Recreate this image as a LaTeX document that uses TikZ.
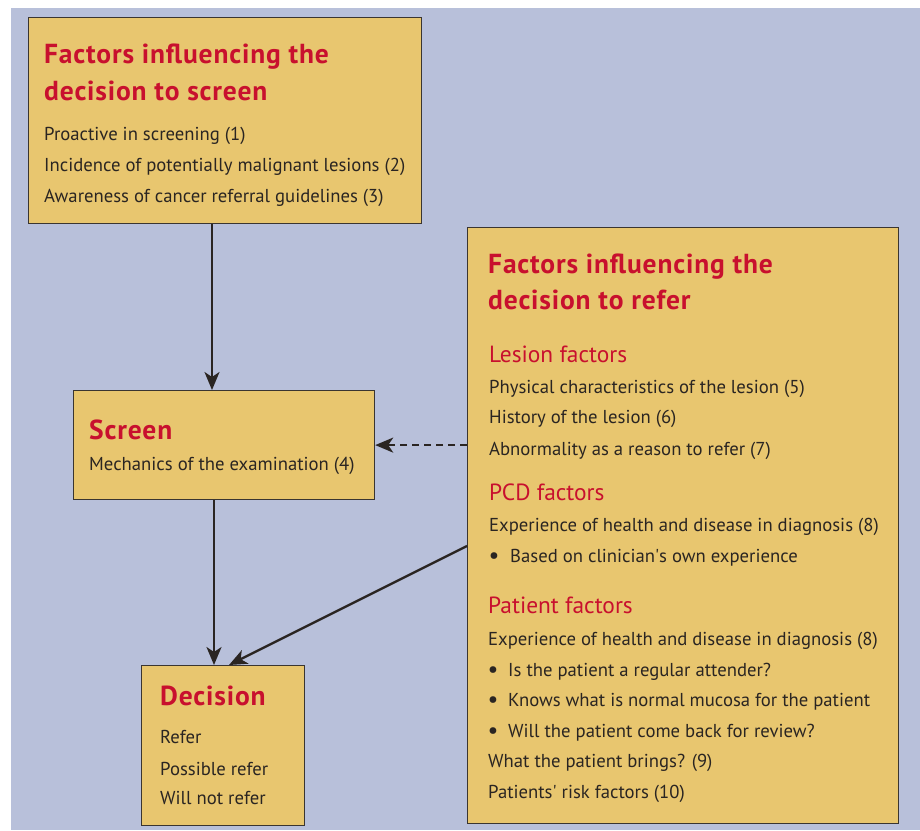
\documentclass[tikz,border=0pt]{standalone}
\usepackage{fontspec}
\setmainfont{PT Sans}
\usetikzlibrary{arrows.meta}
\definecolor{bgc}{HTML}{B8C0DA}
\definecolor{boxc}{HTML}{E8C66F}
\definecolor{titc}{HTML}{C8102E}
\definecolor{txtc}{HTML}{2A2522}
\definecolor{edgec}{HTML}{3A3530}
\begin{document}
\begin{tikzpicture}[x=1pt,y=-1pt,
  box/.style={draw=edgec,line width=1.2pt,fill=boxc,anchor=north west,inner sep=0pt},
  ttl/.style={anchor=base west,inner sep=0pt,text=titc,font=\fontsize{27.5}{27.5}\selectfont\bfseries\addfontfeature{LetterSpace=3}},
  sub/.style={anchor=base west,inner sep=0pt,text=titc,font=\fontsize{23.4}{23.4}\selectfont},
  txt/.style={anchor=base west,inner sep=0pt,text=txtc,font=\fontsize{18.7}{18.7}\selectfont},
  bul/.style={anchor=base,inner sep=0pt,text=txtc,font=\fontsize{24}{24}\selectfont},
  arr/.style={draw=txtc,line width=2.4pt,-{Stealth[length=18pt,width=15pt,inset=5pt]}}]
\useasboundingbox (0,0) rectangle (920,830);
\fill[white] (0,0) rectangle (920,830);
\fill[bgc] (11,8) rectangle (920,830);
% boxes
\node[box,minimum width=393pt,minimum height=206pt] (b1) at (28,17) {};
\node[box,minimum width=431pt,minimum height=596pt] (rf) at (467,227) {};
\node[box,minimum width=301pt,minimum height=109pt] (sc) at (73,390) {};
\node[box,minimum width=163pt,minimum height=160pt] (dc) at (141,665) {};
% box 1 text
\node[ttl] (t1a) at (44,63) {Factors influencing the};
\node[ttl] (t1b) at (44,100) {decision to screen};
\node[txt] (l1) at (44,140) {Proactive in screening (1)};
\node[txt] (l2) at (44,171) {Incidence of potentially malignant lesions (2)};
\node[txt] (l3) at (44,202) {Awareness of cancer referral guidelines (3)};
% refer box text
\node[ttl] (t2a) at (488,273) {Factors influencing the};
\node[ttl] (t2b) at (488,309) {decision to refer};
\node[sub] (s1) at (489,362) {Lesion factors};
\node[txt] (r1) at (489,393) {Physical characteristics of the lesion (5)};
\node[txt] (r2) at (489,423) {History of the lesion (6)};
\node[txt] (r3) at (489,455) {Abnormality as a reason to refer (7)};
\node[sub] (s2) at (489,500) {PCD factors};
\node[txt] (r4) at (489,531) {Experience of health and disease in diagnosis (8)};
\node[bul] (bu1) at (494,563) {•};
\node[txt] (r5) at (510,562) {Based on clinician\textquotesingle s own experience};
\node[sub] (s3) at (488,613) {Patient factors};
\node[txt] (r6) at (488,645) {Experience of health and disease in diagnosis (8)};
\node[bul] (bu2) at (493,677) {•};
\node[txt] (r7) at (508,676) {Is the patient a regular attender?};
\node[bul] (bu3) at (493,707) {•};
\node[txt] (r8) at (508,706) {Knows what is normal mucosa for the patient};
\node[bul] (bu4) at (493,738) {•};
\node[txt] (r9) at (508,737) {Will the patient come back for review?};
\node[txt] (r10) at (488,767) {What the patient brings? (9)};
\node[txt] (r11) at (488,798) {Patients\textquotesingle{} risk factors (10)};
% screen
\node[ttl] (t3) at (89,439) {Screen};
\node[txt] (m1) at (89,470) {Mechanics of the examination (4)};
% decision
\node[ttl] (t4) at (160,705) {Decision};
\node[txt] (d1) at (160,743) {Refer};
\node[txt] (d2) at (160,775) {Possible refer};
\node[txt] (d3) at (160,804) {Will not refer};
% connectors
\coordinate (c1) at (212,0);
\coordinate (c2) at (214,0);
\coordinate (c3) at (0,546);
\coordinate (c4) at (229,0);
\draw[arr] (b1.south -| c1) -- (sc.north -| c1);
\draw[arr] (sc.south -| c2) -- (dc.north -| c2);
\draw[arr,dash pattern=on 7pt off 5pt] (rf.west |- sc.east) -- (sc.east);
\draw[arr] (rf.west |- c3) -- (dc.north -| c4);
\end{tikzpicture}
\end{document}
